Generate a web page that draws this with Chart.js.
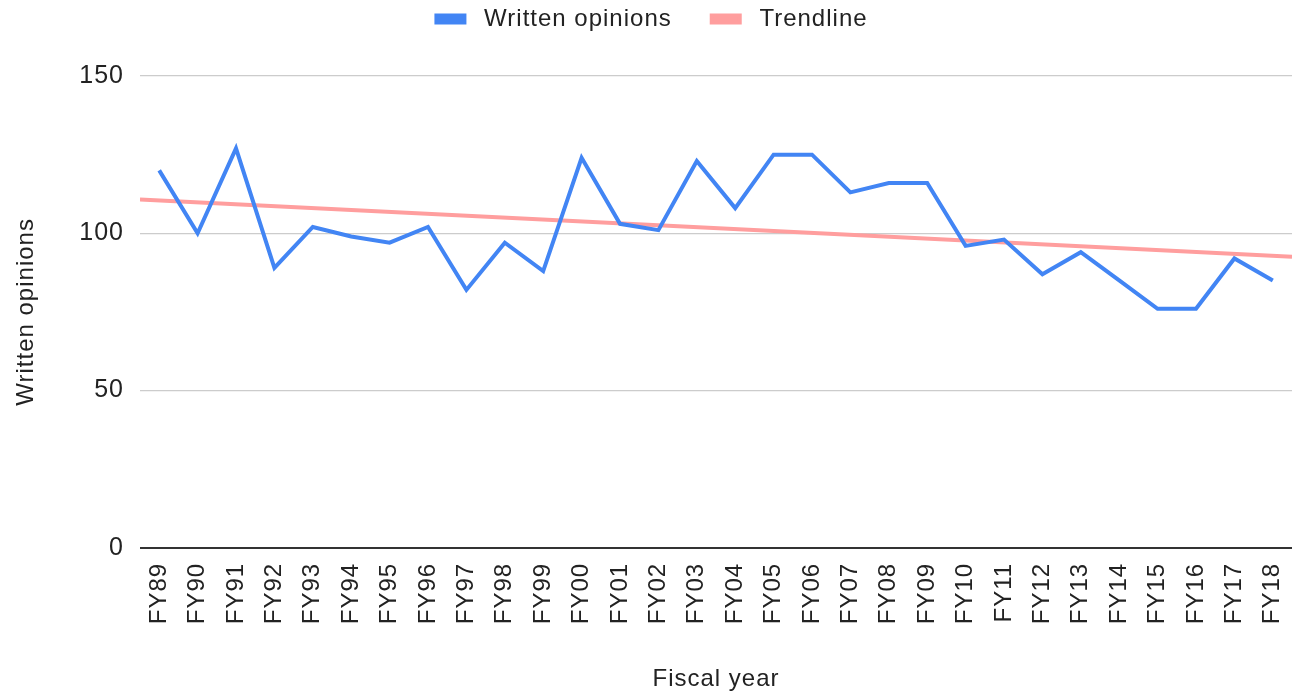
<!DOCTYPE html>
<html>
<head>
<meta charset="utf-8">
<script src="https://cdn.jsdelivr.net/npm/chart.js@4"></script>
<style>
  html, body { margin: 0; padding: 0; background: #fff; }
  #wrap { width: 1296px; height: 698px; }
</style>
</head>
<body>
<div id="wrap"><canvas id="myChart"></canvas></div>
<script>
var years = ['FY89','FY90','FY91','FY92','FY93','FY94','FY95','FY96','FY97','FY98',
             'FY99','FY00','FY01','FY02','FY03','FY04','FY05','FY06','FY07','FY08',
             'FY09','FY10','FY11','FY12','FY13','FY14','FY15','FY16','FY17','FY18'];
var opinions = [120,100,127,89,102,99,97,102,82,97,
                88,124,103,101,123,108,125,125,113,116,
                116,96,98,87,94,85,76,76,92,85];
// trendline ends at the plot edges
var trendStart = 110.7;
var trendEnd = 92.5;
var yTicks = [0, 50, 100, 150];

Chart.defaults.font.family = '"Liberation Sans", Arial, sans-serif';
Chart.defaults.color = '#222';

// the reference text is a bit spread out, so add some letter spacing
var spacing = {
    id: 'spacing',
    beforeUpdate: function(chart){ chart.ctx.letterSpacing = '1px'; },
    beforeDraw: function(chart){ chart.ctx.letterSpacing = '1px'; },
    afterLayout: function(chart){
        // pull the legend up, leaving a gap above the plot
        chart.legend.top -= 35;
        chart.legend.bottom -= 35;
    }
};

var CHART = document.getElementById('myChart');
var myChart = new Chart(CHART, {
    type: 'line',
    data: {
        datasets: [{
            label: ' Written opinions',
            data: opinions.map(function(v, i){ return {x: i, y: v}; }),
            borderColor: '#4285f4',
            backgroundColor: '#4285f4',
            borderWidth: 4,
            pointRadius: 0,
            tension: 0
        }, {
            label: ' Trendline',
            data: [{x: -0.5, y: trendStart}, {x: years.length - 0.5, y: trendEnd}],
            borderColor: '#ff9e9e',
            backgroundColor: '#ff9e9e',
            borderWidth: 4,
            pointRadius: 0
        }]
    },
    plugins: [spacing],
    options: {
        responsive: true,
        maintainAspectRatio: false,
        animation: false,
        layout: { padding: { left: 12, right: 4, top: 2, bottom: 4 } },
        plugins: {
            legend: {
                position: 'top',
                labels: {
                    boxWidth: 28,
                    boxHeight: 7,
                    padding: 40,
                    font: { size: 24 }
                }
            },
            tooltip: { enabled: false }
        },
        scales: {
            x: {
                type: 'linear',
                min: -0.5,
                max: years.length - 0.5,
                afterBuildTicks: function(axis){
                    axis.ticks = years.map(function(y, i){ return {value: i}; });
                },
                afterFit: function(axis){
                    axis.paddingLeft = 0;
                    axis.paddingRight = 0;
                },
                ticks: {
                    autoSkip: false,
                    minRotation: 90,
                    maxRotation: 90,
                    padding: 7,
                    font: { size: 24 },
                    color: '#222',
                    callback: function(v){ return years[v]; }
                },
                grid: { display: false },
                border: { display: false },
                title: {
                    display: true,
                    text: 'Fiscal year',
                    font: { size: 24 },
                    padding: { top: 34, bottom: 0 }
                }
            },
            y: {
                min: 0,
                max: 150,
                afterBuildTicks: function(axis){
                    axis.ticks = yTicks.map(function(v){ return {value: v}; });
                },
                afterFit: function(axis){ axis.width = 128; },
                ticks: {
                    padding: 16,
                    font: { size: 25 },
                    color: '#222'
                },
                grid: {
                    color: function(ctx){ return ctx.tick && ctx.tick.value === 0 ? '#333' : '#cccccc'; },
                    lineWidth: function(ctx){ return ctx.tick && ctx.tick.value === 0 ? 2 : 1.3; },
                    drawTicks: false
                },
                border: { display: false },
                title: {
                    display: true,
                    text: 'Written opinions',
                    font: { size: 24 },
                    padding: { top: 0, bottom: 0 }
                }
            }
        }
    }
});
</script>
</body>
</html>
